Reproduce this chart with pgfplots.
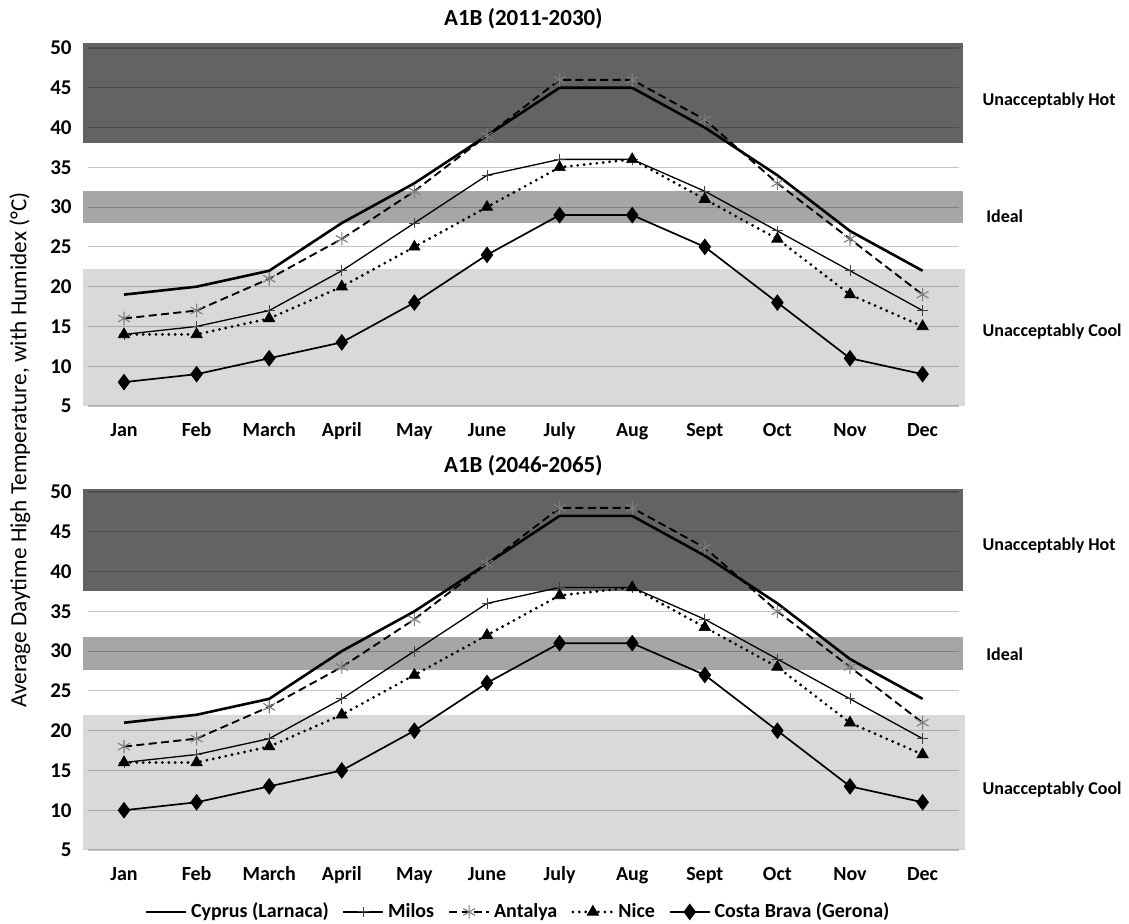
\documentclass[border=0pt]{standalone}
\usepackage{fontspec}
\setmainfont{Carlito}
\usepackage{pgfplots}
\pgfplotsset{compat=1.18}
\definecolor{bandhot}{RGB}{99,99,99}
\definecolor{bandideal}{RGB}{166,166,166}
\definecolor{bandcool}{RGB}{217,217,217}
\definecolor{markgray}{RGB}{125,125,125}
\tikzset{mygrid/.style={black, opacity=0.22, line width=0.55pt}}
\pgfplotsset{
  mystyle/.style={
    scale only axis, width=435.6pt, height=179pt,
    xmin=-0.5, xmax=11.5, ymin=5, ymax=50,
    xtick={0,...,11},
    xticklabels={Jan,Feb,March,April,May,June,July,Aug,Sept,Oct,Nov,Dec},
    ytick={5,10,...,50},
    axis line style={draw=none}, major tick length=0pt,
    tick label style={font=\bfseries\fontsize{10}{12}\selectfont},
    yticklabel style={font=\bfseries\fontsize{10.5}{12}\selectfont, xshift=-4.5pt},
    /pgf/number format/assume math mode=true,
    xticklabel style={yshift=-4pt, text height=1.6ex, text depth=0.5ex},
    clip=false,
    title style={font=\bfseries\fontsize{11.5}{14}\selectfont, anchor=center},
    legend image code/.code={\draw[mark repeat=2,mark phase=2,##1] plot coordinates {(0pt,0pt) (10pt,0pt) (20pt,0pt)};},
  },
  cyprus/.style={black, line width=1.3pt, no markers},
  milos/.style={black, line width=0.65pt, mark=+, mark size=2.7pt, mark options={draw=black!75, line width=0.5pt, solid}},
  antalya/.style={black, line width=0.95pt, dash pattern=on 4pt off 2.2pt, mark=asterisk, mark size=3.4pt, mark options={draw=markgray, line width=0.55pt, solid}},
  nice/.style={black, line width=1.55pt, line cap=round, dash pattern=on 0pt off 3.2pt, mark=triangle*, mark size=3.3pt, mark options={fill=black, draw=black, solid, line width=0.3pt}},
  costa/.style={black, line width=0.85pt, mark=diamond*, mark size=3.5pt, mark options={fill=black, draw=black, solid}},
}
\begin{document}
\begin{tikzpicture}
% ---------- top panel ----------
\begin{axis}[mystyle, at={(43.85pt,-24pt)}, anchor=north west,
  title={A1B (2011-2030)}, title style={at={(axis description cs:0.5,1.048)}}]
\fill[bandcool] (-0.56,5) rectangle (11.58,22.2);
\fill[bandideal] (-0.56,28) rectangle (11.56,32);
\fill[bandhot] (-0.56,38) rectangle (11.56,50.6);
\pgfplotsinvokeforeach{5,10,...,50}{\draw[mygrid] (-0.5,#1) -- (11.5,#1);}
\addplot[cyprus] coordinates {(0,19) (1,20) (2,22) (3,28) (4,33) (5,39) (6,45) (7,45) (8,40) (9,34) (10,27) (11,22)};
\addplot[milos] coordinates {(0,14) (1,15) (2,17) (3,22) (4,28) (5,34) (6,36) (7,36) (8,32) (9,27) (10,22) (11,17)};
\addplot[antalya] coordinates {(0,16) (1,17) (2,21) (3,26) (4,32) (5,39) (6,46) (7,46) (8,41) (9,33) (10,26) (11,19)};
\addplot[nice] coordinates {(0,14) (1,14) (2,16) (3,20) (4,25) (5,30) (6,35) (7,36) (8,31) (9,26) (10,19) (11,15)};
\addplot[costa] coordinates {(0,8) (1,9) (2,11) (3,13) (4,18) (5,24) (6,29) (7,29) (8,25) (9,18) (10,11) (11,9)};
\node[anchor=west, font=\bfseries\fontsize{9}{11}\selectfont] at (11.73,43.4) {Unacceptably Hot};
\node[anchor=west, font=\bfseries\fontsize{9}{11}\selectfont] at (11.78,28.9) {Ideal};
\node[anchor=west, font=\bfseries\fontsize{9}{11}\selectfont] at (11.73,14.4) {Unacceptably Cool};
\end{axis}
% ---------- bottom panel ----------
\begin{axis}[mystyle, at={(43.85pt,-246pt)}, anchor=north west,
  title={A1B (2046-2065)}, title style={at={(axis description cs:0.5,1.04)}},
  legend style={at={(axis description cs:0.495,-0.173)}, anchor=center, draw=none, fill=none,
    legend columns=5, font=\bfseries\fontsize{10}{12}\selectfont,
    /tikz/every even column/.append style={column sep=5pt}}]
\fill[bandcool] (-0.56,5) rectangle (11.58,22);
\fill[bandideal] (-0.56,27.6) rectangle (11.56,31.8);
\fill[bandhot] (-0.56,37.6) rectangle (11.56,50.4);
\pgfplotsinvokeforeach{5,10,...,50}{\draw[mygrid] (-0.5,#1) -- (11.5,#1);}
\addplot[cyprus] coordinates {(0,21) (1,22) (2,24) (3,30) (4,35) (5,41) (6,47) (7,47) (8,42) (9,36) (10,29) (11,24)};
\addlegendentry{Cyprus (Larnaca)}
\addplot[milos] coordinates {(0,16) (1,17) (2,19) (3,24) (4,30) (5,36) (6,38) (7,38) (8,34) (9,29) (10,24) (11,19)};
\addlegendentry{Milos}
\addplot[antalya] coordinates {(0,18) (1,19) (2,23) (3,28) (4,34) (5,41) (6,48) (7,48) (8,43) (9,35) (10,28) (11,21)};
\addlegendentry{Antalya}
\addplot[nice] coordinates {(0,16) (1,16) (2,18) (3,22) (4,27) (5,32) (6,37) (7,38) (8,33) (9,28) (10,21) (11,17)};
\addlegendentry{Nice}
\addplot[costa] coordinates {(0,10) (1,11) (2,13) (3,15) (4,20) (5,26) (6,31) (7,31) (8,27) (9,20) (10,13) (11,11)};
\addlegendentry{Costa Brava (Gerona)}
\node[anchor=west, font=\bfseries\fontsize{9}{11}\selectfont] at (11.73,43.3) {Unacceptably Hot};
\node[anchor=west, font=\bfseries\fontsize{9}{11}\selectfont] at (11.78,29.6) {Ideal};
\node[anchor=west, font=\bfseries\fontsize{9}{11}\selectfont] at (11.73,12.6) {Unacceptably Cool};
\end{axis}
\node[rotate=90, font=\fontsize{11.6}{13}\selectfont] at (10pt,-225pt) {Average Daytime High Temperature, with Humidex (°C)};
\pgfresetboundingbox
\useasboundingbox (0,0) rectangle (564.5pt,-461.5pt);
\end{tikzpicture}
\end{document}
